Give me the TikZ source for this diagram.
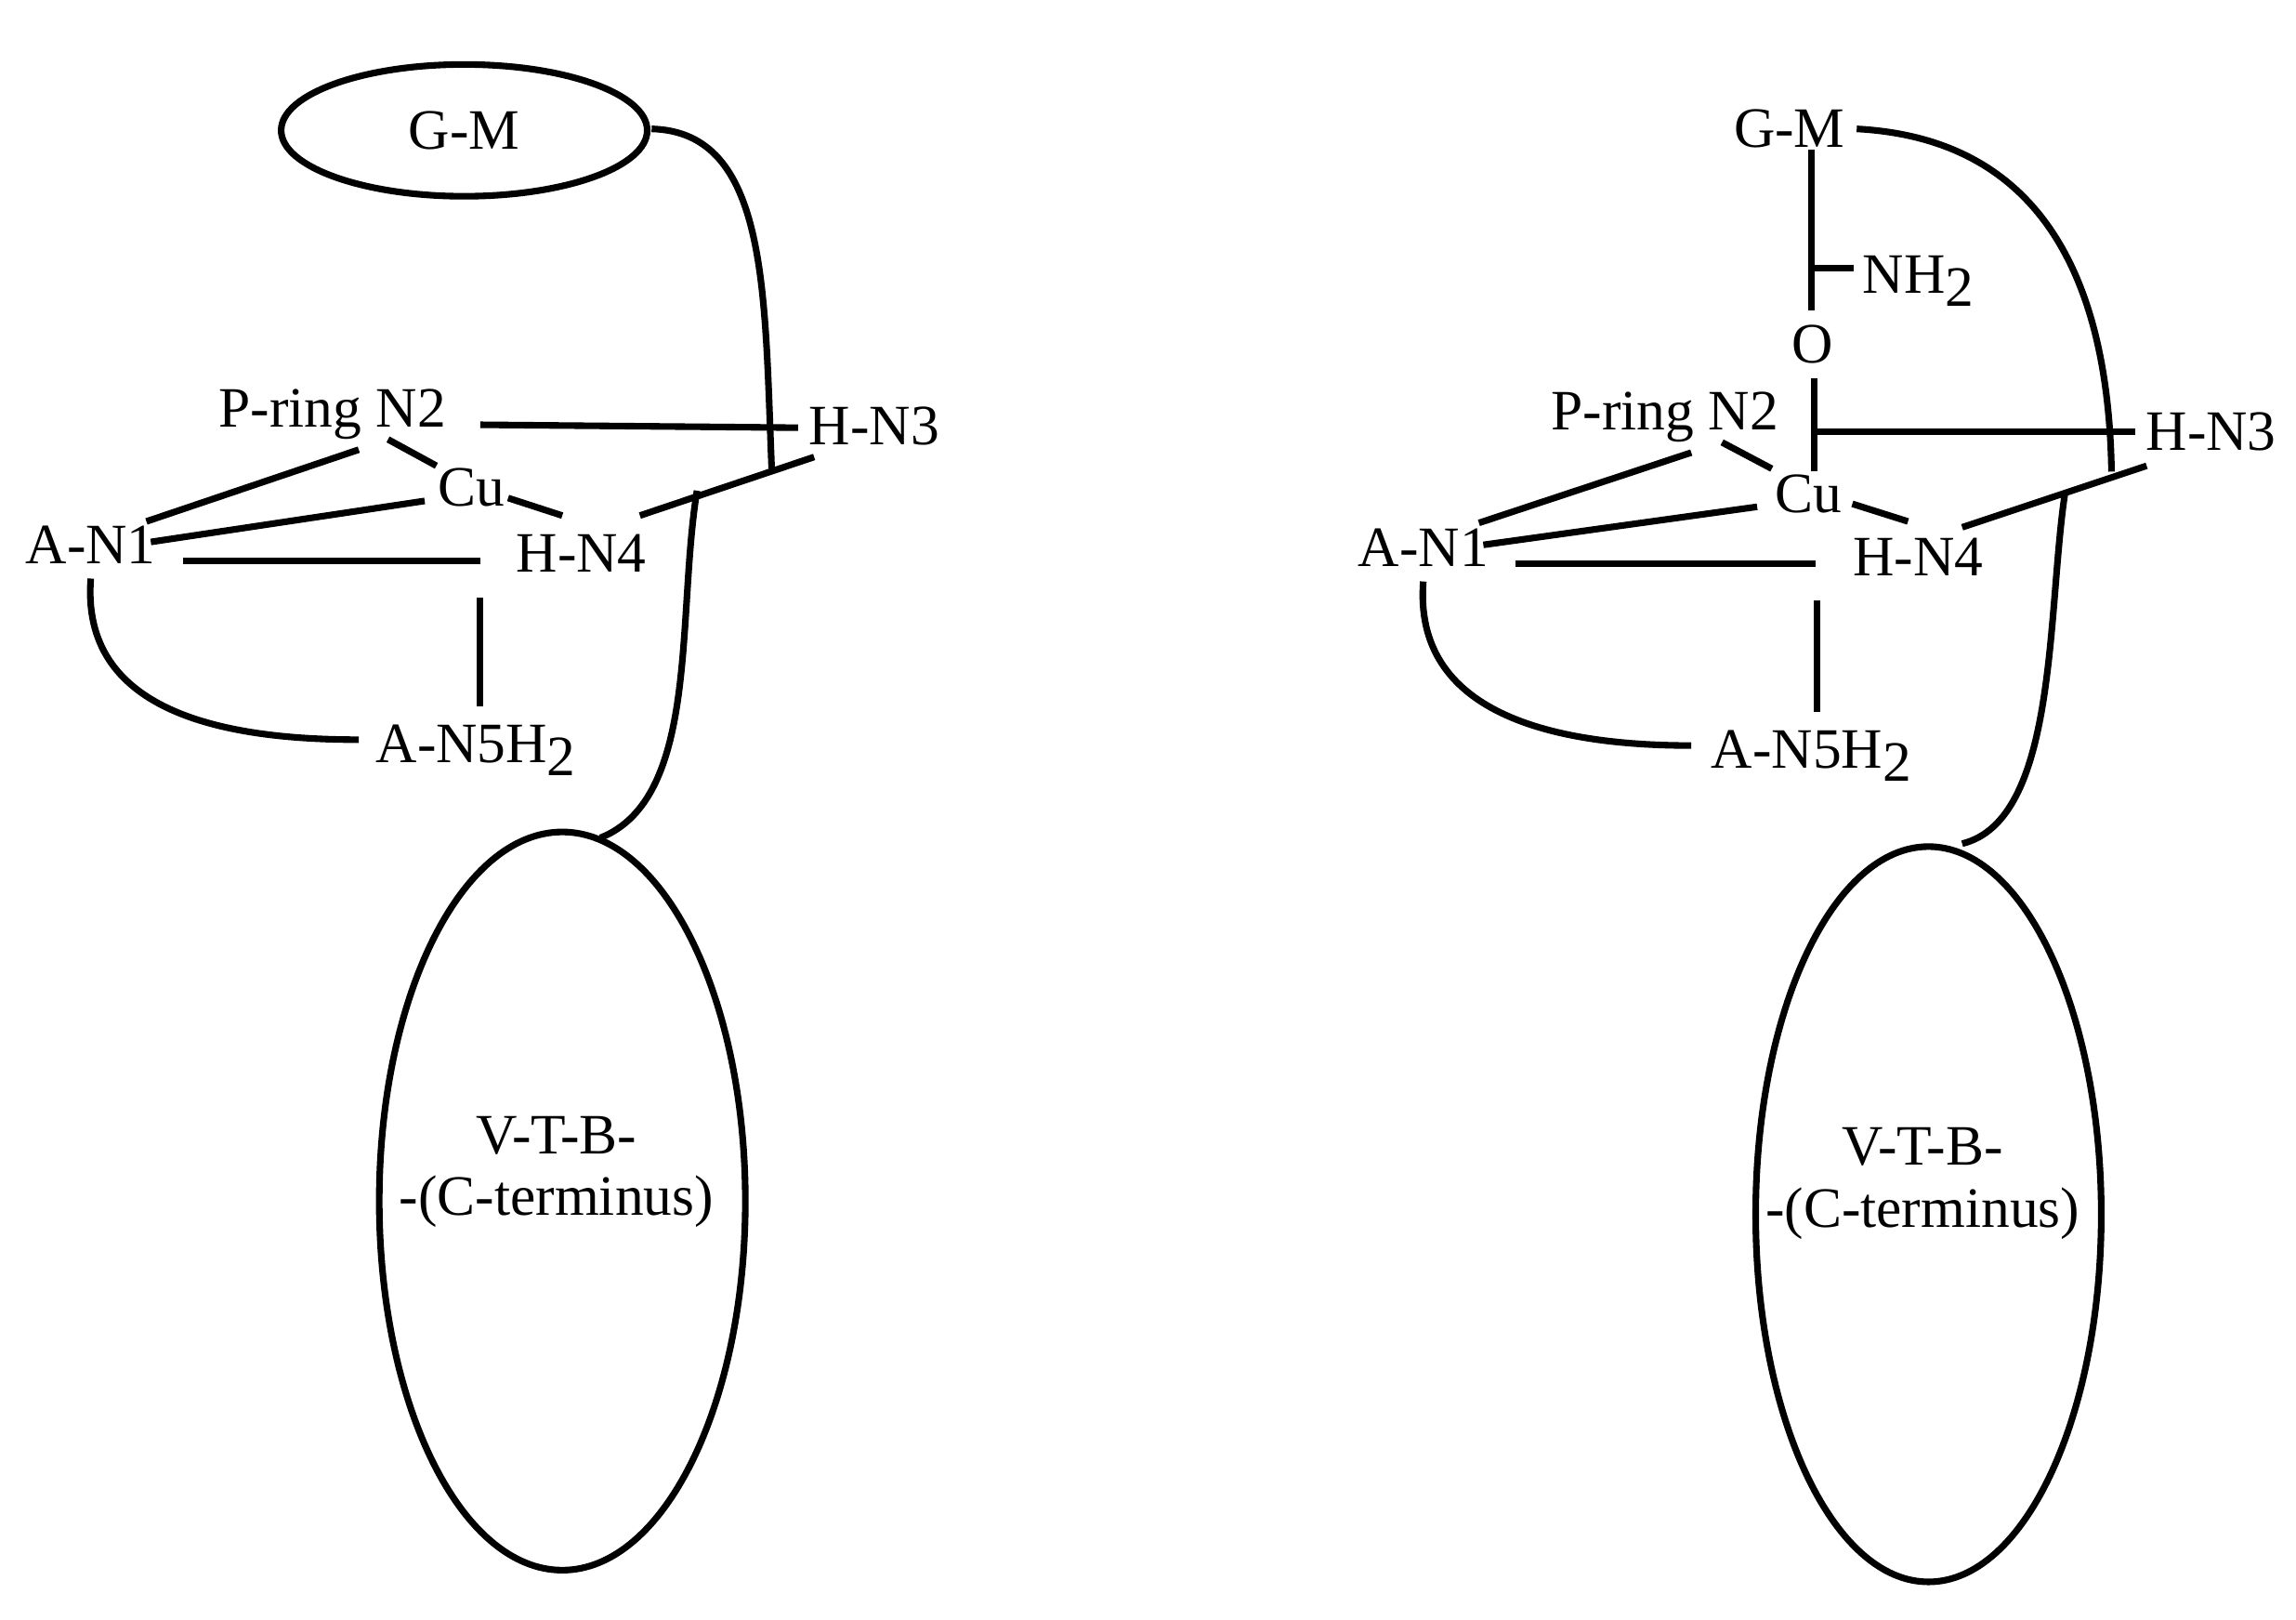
\documentclass[tikz,border=0pt]{standalone}
\usepackage{fontspec}
\setmainfont{Liberation Serif}
\newcommand{\subtwo}{\raisebox{-9pt}{2}}
\begin{document}
\begin{tikzpicture}[x=1pt,y=-1pt,line width=4.5pt,
  lbl/.style={inner sep=0pt,font=\fontsize{39}{42}\selectfont}]
\useasboundingbox (0,0) rectangle (1568,1106);
% ---------- left panel ----------
\draw (317,89) ellipse [x radius=125,y radius=45];
\node[lbl] (gm1) at (317,89) {G-M};
\coordinate (gmR1) at (445,88);
\coordinate (j1) at (527,320);
\draw (gmR1) .. controls (525,90) and (522,200) .. (j1);
\node[lbl] (pr1) at (227,283) {P-ring N2};
\node[lbl] (h31) at (597,291) {H-N3};
\node[lbl] (cu1) at (322,333) {Cu};
\node[lbl] (a11) at (62,372) {A-N1};
\node[lbl] (h41) at (397,378) {H-N4};
\node[lbl] (a51) at (325,512) {A-N5H\subtwo};
\draw (328,290) -- (545,292);
\draw (100,356) -- (245,307);
\draw (103,370) -- (290,342);
\draw (125,383) -- (328,383);
\draw (265,300) -- (298,318);
\draw (347,340) -- (384,352);
\draw (437,352) -- (556,312);
\draw (328,408) -- (328,482);
\draw (62,395) .. controls (55,485) and (150,505) .. (245,505);
\draw (476,335) .. controls (462,420) and (478,545) .. (410,572);
\draw (384,820) ellipse [x radius=125,y radius=252];
\node[lbl,align=center] (vt1) at (380,800) {V-T-B-\\-(C-terminus)};
% ---------- right panel ----------
\node[lbl] (gm2) at (1222,88) {G-M};
\draw (1268,88) .. controls (1400,95) and (1440,200) .. (1442,322);
\draw (1237,102) -- (1237,212);
\draw (1237,183) -- (1266,183);
\node[lbl] (nh2) at (1310,192) {NH\subtwo};
\node[lbl] (o2) at (1238,235) {O};
\draw (1239,258) -- (1239,322);
\draw (1239,295) -- (1458,295);
\node[lbl] (pr2) at (1137,285) {P-ring N2};
\node[lbl] (h32) at (1510,295) {H-N3};
\node[lbl] (cu2) at (1235,337) {Cu};
\node[lbl] (a12) at (972,374) {A-N1};
\node[lbl] (h42) at (1310,380) {H-N4};
\node[lbl] (a52) at (1237,516) {A-N5H\subtwo};
\draw (1010,357) -- (1155,309);
\draw (1013,372) -- (1200,346);
\draw (1035,385) -- (1240,385);
\draw (1176,302) -- (1210,320);
\draw (1265,344) -- (1303,356);
\draw (1340,360) -- (1466,318);
\draw (1241,410) -- (1241,486);
\draw (972,397) .. controls (965,487) and (1060,509) .. (1155,509);
\draw (1410,338) .. controls (1398,420) and (1405,560) .. (1340,576);
\draw (1317,829) ellipse [x radius=118,y radius=251];
\node[lbl,align=center] (vt2) at (1313,808) {V-T-B-\\-(C-terminus)};
\end{tikzpicture}
\end{document}
